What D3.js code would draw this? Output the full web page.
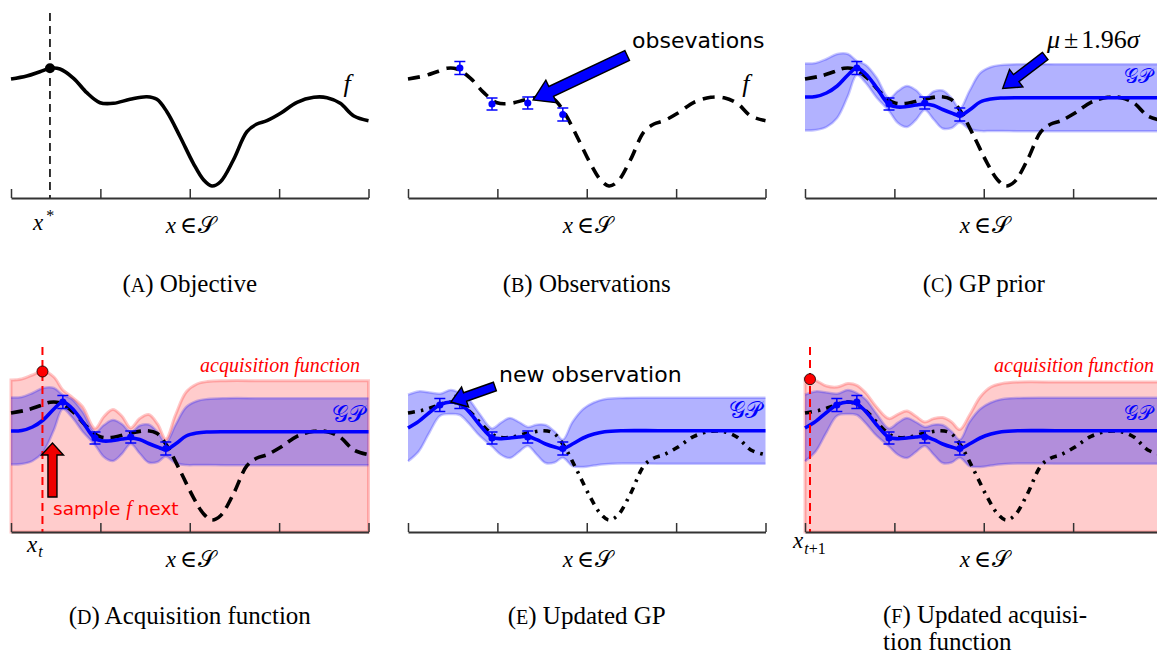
<!DOCTYPE html>
<html>
<head>
<meta charset="utf-8">
<script src="https://cdn.jsdelivr.net/npm/d3@7"></script>
<style>
  html, body { margin: 0; padding: 0; background: #fff; }
  svg { display: block; }
  .sans { font-family: "DejaVu Sans", sans-serif; }
</style>
</head>
<body>
<svg id="fig" width="1157" height="655"></svg>
<script>
// ---------------- data ----------------
// positions along the search space are normalised to [0, 1]
const tickPos = [0, 0.25, 0.5, 0.75, 1];

// objective f
const fX = [0, 0.044, 0.081, 0.109, 0.137, 0.175, 0.212, 0.249, 0.287, 0.333, 0.38, 0.408,
            0.436, 0.473, 0.51, 0.539, 0.562, 0.586, 0.622, 0.66, 0.688, 0.716, 0.754, 0.8,
            0.847, 0.884, 0.921, 0.959, 1];
const fY = [1.19, 1.22, 1.263, 1.297, 1.29, 1.197, 1.053, 0.953, 0.947, 0.987, 1.013, 0.987,
            0.863, 0.613, 0.347, 0.18, 0.12, 0.163, 0.38, 0.663, 0.74, 0.773, 0.847, 0.957,
            1.007, 1.003, 0.947, 0.82, 0.773];

// maximiser of f
const optX = [0.109];
const optY = [1.297];

// noisy observations
const obsX = [0.145, 0.235, 0.335, 0.433];
const obsY = [1.30, 0.94, 0.95, 0.835];
const obsErr = [0.065, 0.06, 0.06, 0.065];

// observation added after the first acquisition step
const newObsX = [0.089];
const newObsY = [1.27];
const newObsErr = [0.065];

// GP grid
const gpX = [0, 0.03, 0.06, 0.09, 0.12, 0.145, 0.17, 0.2, 0.235, 0.26, 0.285, 0.31, 0.335,
             0.36, 0.385, 0.41, 0.433, 0.46, 0.49, 0.52, 0.55, 0.6, 0.7, 0.8, 0.9, 1];

// GP fitted to the four observations: mean, 1.96 sigma half-width, acquisition (UCB)
const gp1Mean = [1.01, 1.015, 1.05, 1.12, 1.23, 1.30, 1.24, 1.105, 0.935, 0.91, 0.915, 0.93, 0.94,
                 0.925, 0.885, 0.85, 0.825, 0.88, 0.96, 0.99, 1.0, 1.003, 1.003, 1.003, 1.003, 1.003];
const gp1Ci   = [0.335, 0.335, 0.34, 0.32, 0.21, 0.07, 0.09, 0.10, 0.065, 0.16, 0.205, 0.15, 0.06,
                 0.14, 0.19, 0.15, 0.07, 0.19, 0.29, 0.32, 0.33, 0.335, 0.335, 0.335, 0.335, 0.335];
const gp1Acq  = [1.52, 1.53, 1.57, 1.61, 1.55, 1.42, 1.35, 1.255, 1.035, 1.155, 1.225, 1.16, 1.04,
                 1.135, 1.175, 1.08, 0.93, 1.17, 1.40, 1.48, 1.505, 1.513, 1.513, 1.513, 1.513, 1.513];

// GP after adding the new observation
const gp2Mean = [1.04, 1.106, 1.195, 1.273, 1.30, 1.28, 1.206, 1.073, 0.946, 0.933, 0.94, 0.95, 0.956,
                 0.923, 0.88, 0.85, 0.833, 0.88, 0.94, 0.98, 1.003, 1.013, 1.013, 1.013, 1.013, 1.013];
const gp2Ci   = [0.333, 0.30, 0.20, 0.11, 0.12, 0.11, 0.12, 0.11, 0.09, 0.16, 0.20, 0.15, 0.095,
                 0.15, 0.19, 0.155, 0.09, 0.22, 0.29, 0.315, 0.325, 0.328, 0.33, 0.33, 0.33, 0.33];
const gp2Acq  = [1.534, 1.514, 1.46, 1.45, 1.484, 1.467, 1.39, 1.25, 1.134, 1.177, 1.21, 1.157, 1.10,
                 1.134, 1.144, 1.10, 1.024, 1.167, 1.35, 1.45, 1.484, 1.50, 1.50, 1.50, 1.50, 1.50];

// argmax of each acquisition function
const nextX = [0.088, 0.014];
const nextAcq = [1.605, 1.528];

const captionLetters = ["A", "B", "C", "D", "E", "F"];
const captionTexts = ["Objective", "Observations", "GP prior", "Acquisition function", "Updated GP",
                      "Updated acquisi-", "tion function"];

// ---------------- layout ----------------
const svg = d3.select("#fig");
const W = 357.5;
const panelLeft = [11, 408, 805, 11, 408, 805];
const panelBase = [198, 198, 198, 532, 532, 532];

const BLUE = "#0000ff";
const RED = "#ff0000";
const mathFont = '"Liberation Serif", "DejaVu Serif", serif';

function scales(i) {
  return {
    x: d3.scaleLinear().domain([0, 1]).range([panelLeft[i], panelLeft[i] + W]),
    y: d3.scaleLinear().domain([0, 2]).range([panelBase[i], panelBase[i] - 200])
  };
}

const smooth = d3.curveCatmullRom.alpha(0.5);

function drawAxis(g, s, i) {
  const ax = g.append("g")
    .attr("transform", `translate(0,${panelBase[i]})`)
    .call(d3.axisBottom(s.x).tickValues(tickPos).tickSizeInner(-9).tickSizeOuter(0).tickFormat(""));
  ax.select(".domain").attr("stroke", "#333").attr("stroke-width", 2);
  ax.selectAll(".tick line").attr("stroke", "#333").attr("stroke-width", 1.5);
}

function drawF(g, s, dash) {
  const pts = fX.map((t, k) => [t, fY[k]]);
  g.append("path")
    .attr("d", d3.line().x(d => s.x(d[0])).y(d => s.y(d[1])).curve(smooth)(pts))
    .attr("fill", "none").attr("stroke", "#000").attr("stroke-width", 3.6)
    .attr("stroke-dasharray", dash || null);
}

function gpRows(mean, ci) {
  return gpX.map((t, k) => ({ t, m: mean[k], c: ci[k] }));
}

function drawBand(g, s, mean, ci) {
  const rows = gpRows(mean, ci);
  g.append("path")
    .attr("d", d3.area().x(d => s.x(d.t)).y0(d => s.y(d.m - d.c)).y1(d => s.y(d.m + d.c)).curve(smooth)(rows))
    .attr("fill", "rgba(0,0,255,0.3)");
  [-1, 1].forEach(sign => {
    g.append("path")
      .attr("d", d3.line().x(d => s.x(d.t)).y(d => s.y(d.m + sign * d.c)).curve(smooth)(rows))
      .attr("fill", "none").attr("stroke", "rgba(0,0,255,0.22)").attr("stroke-width", 2.5);
  });
}

function drawMean(g, s, mean) {
  const rows = gpX.map((t, k) => [t, mean[k]]);
  g.append("path")
    .attr("d", d3.line().x(d => s.x(d[0])).y(d => s.y(d[1])).curve(smooth)(rows))
    .attr("fill", "none").attr("stroke", BLUE).attr("stroke-width", 3.6);
}

function drawAcq(g, s, acq, i) {
  const rows = gpX.map((t, k) => [t, acq[k]]);
  const area = d3.area().x(d => s.x(d[0])).y0(panelBase[i]).y1(d => s.y(d[1])).curve(smooth);
  g.append("path")
    .attr("d", area(rows))
    .attr("fill", "rgba(255,0,0,0.2)")
    .attr("stroke", "rgba(255,0,0,0.22)").attr("stroke-width", 3);
}

function drawObs(g, s, xs, ys, errs) {
  const rows = xs.map((t, k) => ({ t, v: ys[k], e: errs[k] }));
  const eb = g.append("g").attr("stroke", BLUE).attr("stroke-width", 1.5);
  rows.forEach(d => {
    const cx = s.x(d.t), yt = s.y(d.v + d.e), yb = s.y(d.v - d.e);
    eb.append("line").attr("x1", cx).attr("x2", cx).attr("y1", yt).attr("y2", yb);
    eb.append("line").attr("x1", cx - 5.5).attr("x2", cx + 5.5).attr("y1", yt).attr("y2", yt);
    eb.append("line").attr("x1", cx - 5.5).attr("x2", cx + 5.5).attr("y1", yb).attr("y2", yb);
  });
  g.selectAll(null).data(rows).join("circle")
    .attr("cx", d => s.x(d.t)).attr("cy", d => s.y(d.v)).attr("r", 3.6).attr("fill", BLUE);
}

function arrow(g, tail, tip, w, hw, hl, fill) {
  const dx = tip[0] - tail[0], dy = tip[1] - tail[1];
  const L = Math.hypot(dx, dy), ux = dx / L, uy = dy / L, nx = -uy, ny = ux;
  const bx = tip[0] - ux * hl, by = tip[1] - uy * hl;
  const pts = [
    [tail[0] + nx * w / 2, tail[1] + ny * w / 2],
    [bx + nx * w / 2, by + ny * w / 2],
    [bx + nx * hw / 2, by + ny * hw / 2],
    tip,
    [bx - nx * hw / 2, by - ny * hw / 2],
    [bx - nx * w / 2, by - ny * w / 2],
    [tail[0] - nx * w / 2, tail[1] - ny * w / 2]
  ];
  g.append("path").attr("d", "M" + pts.map(p => p.join(",")).join("L") + "Z")
    .attr("fill", fill).attr("stroke", "#000").attr("stroke-width", 1.4).attr("stroke-linejoin", "miter");
}

function mathText(g, x, y, size, parts, color, anchor) {
  const t = g.append("text").attr("x", x).attr("y", y)
    .attr("font-family", mathFont).attr("font-size", size)
    .attr("fill", color || "#000").attr("text-anchor", anchor || "start");
  parts.forEach(p => {
    const sp = t.append("tspan").text(p.s);
    if (p.i) sp.attr("font-style", "italic");
    if (p.size) sp.attr("font-size", p.size);
    if (p.dy) sp.attr("dy", p.dy);
    if (p.dx) sp.attr("dx", p.dx);
  });
  return t;
}

function xInS(g, s, i) {
  mathText(g, s.x(0.5) + 1, panelBase[i] + 35, 23, [
    { s: "x", i: true }, { s: "\u2208", dx: 4 }, { s: "\u{1D4AE}", dx: 1 }
  ], "#000", "middle");
}

function gpLabel(g, x, y, size) {
  mathText(g, x, y, size, [{ s: "\u{1D4A2}\u{1D4AB}" }], BLUE);
}

function caption(g, cx, y, idx, text, anchor) {
  const t = g.append("text").attr("x", cx).attr("y", y)
    .attr("font-family", mathFont).attr("font-size", 25)
    .attr("text-anchor", anchor || "middle").attr("fill", "#000");
  t.append("tspan").text("(");
  t.append("tspan").attr("font-size", 20).text(captionLetters[idx]);
  t.append("tspan").text(") " + text);
  return t;
}

const panels = d3.range(6).map(i => svg.append("g").attr("class", "panel-" + captionLetters[i]));
const S = d3.range(6).map(scales);

// (A) objective
{
  const g = panels[0], s = S[0];
  drawF(g, s);
  g.append("line").attr("x1", s.x(optX[0])).attr("x2", s.x(optX[0]))
    .attr("y1", 13).attr("y2", panelBase[0])
    .attr("stroke", "#000").attr("stroke-width", 1.6).attr("stroke-dasharray", "8,5");
  g.append("circle").attr("cx", s.x(optX[0])).attr("cy", s.y(optY[0])).attr("r", 5).attr("fill", "#000");
  drawAxis(g, s, 0);
  mathText(g, s.x(0.93), 92, 26, [{ s: "f", i: true }]);
  mathText(g, s.x(optX[0]) - 17, 230, 23, [{ s: "x", i: true }, { s: "*", size: 16, dy: -9, dx: 3 }]);
  xInS(g, s, 0);
}

// (B) observations
{
  const g = panels[1], s = S[1];
  drawF(g, s, "12,8");
  drawObs(g, s, obsX, obsY, obsErr);
  drawAxis(g, s, 1);
  arrow(g, [s.x(0.613), s.y(1.425)], [s.x(0.35), s.y(0.98)], 11, 25, 20, BLUE);
  g.append("text").attr("class", "sans").attr("x", 632).attr("y", 48).attr("font-size", 22).text("obsevations");
  mathText(g, s.x(0.935), 92, 26, [{ s: "f", i: true }]);
  xInS(g, s, 1);
}

// (C) GP prior
{
  const g = panels[2], s = S[2];
  drawBand(g, s, gp1Mean, gp1Ci);
  drawF(g, s, "12,7");
  drawMean(g, s, gp1Mean);
  drawObs(g, s, obsX, obsY, obsErr);
  drawAxis(g, s, 2);
  arrow(g, [s.x(0.672), s.y(1.42)], [s.x(0.553), s.y(1.095)], 9, 22, 17, BLUE);
  mathText(g, 1047, 48, 26, [{ s: "\u03BC", i: true }, { s: "\u00B1", dx: 4 }, { s: "1.96", dx: 3 }, { s: "\u03C3", i: true }]);
  gpLabel(g, 1124, 83, 20);
  xInS(g, s, 2);
}

// (D) acquisition function
{
  const g = panels[3], s = S[3];
  drawAcq(g, s, gp1Acq, 3);
  drawBand(g, s, gp1Mean, gp1Ci);
  drawF(g, s, "12,7");
  drawMean(g, s, gp1Mean);
  drawObs(g, s, obsX, obsY, obsErr);
  g.append("line").attr("x1", s.x(nextX[0])).attr("x2", s.x(nextX[0]))
    .attr("y1", 347).attr("y2", panelBase[3])
    .attr("stroke", RED).attr("stroke-width", 2).attr("stroke-dasharray", "8,5");
  g.append("circle").attr("cx", s.x(nextX[0])).attr("cy", s.y(nextAcq[0])).attr("r", 5.5)
    .attr("fill", RED).attr("stroke", "#000").attr("stroke-width", 0.8);
  drawAxis(g, s, 3);
  // upward arrow towards the next sample
  arrow(g, [s.x(nextX[0]) + 10, 497], [s.x(nextX[0]) + 10, 443], 9, 22, 12, "#ee0000");
  const t = g.append("text").attr("x", 53).attr("y", 515).attr("fill", RED).attr("font-size", 18.5)
    .attr("font-family", '"DejaVu Sans", sans-serif');
  t.append("tspan").text("sample ");
  t.append("tspan").attr("font-family", mathFont).attr("font-style", "italic").attr("font-size", 20).text("f");
  t.append("tspan").text(" next");
  mathText(g, 200, 372, 20, [{ s: "acquisition function", i: true }], RED).attr("textLength", 160).attr("lengthAdjust", "spacing");
  gpLabel(g, 332, 422, 23);
  mathText(g, 27, 552, 23, [{ s: "x", i: true }, { s: "t", i: true, size: 16, dy: 5, dx: 1 }]);
  xInS(g, s, 3);
}

// (E) updated GP
{
  const g = panels[4], s = S[4];
  drawBand(g, s, gp2Mean, gp2Ci);
  drawF(g, s, "7,6,2.5,6");
  drawMean(g, s, gp2Mean);
  drawObs(g, s, obsX.concat(newObsX), obsY.concat(newObsY), obsErr.concat(newObsErr));
  drawAxis(g, s, 4);
  arrow(g, [s.x(0.243), s.y(1.455)], [s.x(0.12), s.y(1.30)], 9, 21, 15, BLUE);
  g.append("text").attr("class", "sans").attr("x", 499).attr("y", 382).attr("font-size", 22).text("new observation");
  gpLabel(g, 729, 418, 23);
  xInS(g, s, 4);
}

// (F) updated acquisition function
{
  const g = panels[5], s = S[5];
  drawAcq(g, s, gp2Acq, 5);
  drawBand(g, s, gp2Mean, gp2Ci);
  drawF(g, s, "7,6,2.5,6");
  drawMean(g, s, gp2Mean);
  drawObs(g, s, obsX.concat(newObsX), obsY.concat(newObsY), obsErr.concat(newObsErr));
  g.append("line").attr("x1", s.x(nextX[1])).attr("x2", s.x(nextX[1]))
    .attr("y1", 347).attr("y2", panelBase[5])
    .attr("stroke", RED).attr("stroke-width", 2).attr("stroke-dasharray", "8,5");
  g.append("circle").attr("cx", s.x(nextX[1])).attr("cy", s.y(nextAcq[1])).attr("r", 5.5)
    .attr("fill", RED).attr("stroke", "#000").attr("stroke-width", 0.8);
  drawAxis(g, s, 5);
  mathText(g, 994, 372, 20, [{ s: "acquisition function", i: true }], RED).attr("textLength", 160).attr("lengthAdjust", "spacing");
  gpLabel(g, 1124, 420, 20);
  mathText(g, 793, 548, 23, [{ s: "x", i: true }, { s: "t", i: true, size: 16, dy: 6, dx: 1 }, { s: "+1", size: 16 }]);
  xInS(g, s, 5);
}

// sub-captions
const capG = svg.append("g");
[0, 1, 2].forEach(i => caption(capG, S[i].x(0.5), 292, i, captionTexts[i]));
[3, 4].forEach(i => caption(capG, S[i].x(0.5), 624, i, captionTexts[i]));
caption(capG, 883, 623, 5, captionTexts[5], "start");
capG.append("text").attr("x", 883).attr("y", 650).attr("font-family", mathFont).attr("font-size", 25)
  .text(captionTexts[6]);
</script>
</body>
</html>
